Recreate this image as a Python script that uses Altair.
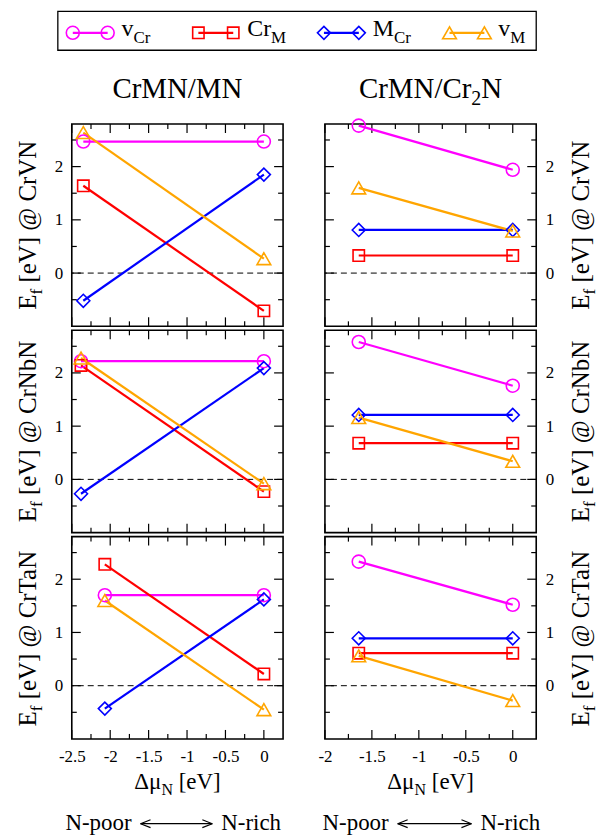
import altair as alt
import pandas as pd

FONT = "Liberation Serif"

# ---------------- data ----------------
SERIES = ["vCr", "CrM", "MCr", "vM"]
LEG_MAIN = ["v", "Cr", "M", "v"]
LEG_SUB = ["Cr", "M", "Cr", "M"]
COLORS = ["#ff00ff", "#ff0000", "#0000ff", "#ffa500"]
SHAPES = ["circle", "square", "diamond", "triangle-up"]
SIZES = [170, 130, 170, 190]

# Δμ_N positions of the two end points, per row (left column) and right column
X_LEFT = [[-2.35, 0.0], [-2.38, 0.0], [-2.07, 0.0]]
X_RIGHT = [-1.64, 0.0]

# formation energies [N-poor end, N-rich end]
MN_CRVN = {"vCr": [2.47, 2.47], "CrM": [1.64, -0.71], "MCr": [-0.52, 1.85], "vM": [2.64, 0.27]}
CR2N_CRVN = {"vCr": [2.77, 1.94], "CrM": [0.33, 0.33], "MCr": [0.81, 0.81], "vM": [1.60, 0.79]}
MN_CRNBN = {"vCr": [2.22, 2.22], "CrM": [2.14, -0.23], "MCr": [-0.27, 2.09], "vM": [2.28, -0.08]}
CR2N_CRNBN = {"vCr": [2.58, 1.76], "CrM": [0.68, 0.68], "MCr": [1.21, 1.21], "vM": [1.16, 0.34]}
MN_CRTAN = {"vCr": [1.70, 1.70], "CrM": [2.28, 0.22], "MCr": [-0.43, 1.62], "vM": [1.60, -0.45]}
CR2N_CRTAN = {"vCr": [2.33, 1.52], "CrM": [0.61, 0.61], "MCr": [0.89, 0.89], "vM": [0.56, -0.28]}

PANELS = [[MN_CRVN, CR2N_CRVN], [MN_CRNBN, CR2N_CRNBN], [MN_CRTAN, CR2N_CRTAN]]
ROW_NAMES = ["CrVN", "CrNbN", "CrTaN"]

YDOM = [-1.0, 2.8]
XDOMS = [[-2.5, 0.25], [-2.0, 0.25]]
XMAJ = [[-2.5, -2, -1.5, -1, -0.5, 0], [-2, -1.5, -1, -0.5, 0]]
XMIN = [[-2.25, -1.75, -1.25, -0.75, -0.25], [-1.75, -1.25, -0.75, -0.25]]
YMAJ = [0, 1, 2]
YMIN = [-0.5, 0.5, 1.5, 2.5]

# ---------------- layout ----------------
W, H = 212, 203
VSP, HSP = 4, 42
OX = [71, 325]          # page x of panel origins
OY = [121, 328, 535]    # page y of panel origins

TW = {" ": 250, "-": 333, "/": 278, "@": 921, "C": 667, "E": 611, "M": 889, "N": 722,
      "T": 611, "V": 722, "[": 333, "]": 333, "a": 444, "b": 500, "c": 444, "e": 444,
      "f": 333, "h": 500, "i": 278, "o": 500, "p": 500, "r": 333, "v": 500,
      "\u0394": 612, "\u03bc": 576, "2": 500}


def tw(s, size):
    return sum(TW.get(ch, 500) for ch in s) * size / 1000.0


def one():
    return alt.Data(values=[{}])


def txt(t, x, y, size, angle=0, align="left"):
    return alt.Chart(one()).mark_text(
        text=t, font=FONT, fontSize=size, align=align, baseline="alphabetic",
        angle=angle, color="black"
    ).encode(x=alt.value(x), y=alt.value(y))


def seg(x1, y1, x2, y2, color="black", w=1.2):
    return alt.Chart(one()).mark_rule(color=color, strokeWidth=w).encode(
        x=alt.value(x1), x2=alt.value(x2), y=alt.value(y1), y2=alt.value(y2))


def sym(x, y, shape, color, size):
    return alt.Chart(one()).mark_point(
        shape=shape, filled=False, color=color, size=size, strokeWidth=1.6, opacity=1
    ).encode(x=alt.value(x), y=alt.value(y))


def pieces_h(parts, cx, y):
    """parts: (text, size, dy, pre_gap)"""
    total = sum(tw(t, s) + g for t, s, d, g in parts)
    x = cx - total / 2
    out = []
    for t, s, d, g in parts:
        x += g
        out.append(txt(t, x, y + d, s))
        x += tw(t, s)
    return out


def pieces_v(parts, x, cy):
    total = sum(tw(t, s) + g for t, s, d, g in parts)
    y = cy + total / 2
    out = []
    for t, s, d, g in parts:
        y -= g
        out.append(txt(t, x + d, y, s, angle=270))
        y -= tw(t, s)
    return out


def panel(r, c):
    vals = PANELS[r][c]
    xs = X_LEFT[r] if c == 0 else X_RIGHT
    rows = []
    for i, s in enumerate(SERIES):
        for j in range(2):
            rows.append({"x": xs[j], "y": vals[s][j], "s": s, "sz": SIZES[i]})
    df = pd.DataFrame(rows)

    xscale = alt.Scale(domain=XDOMS[c], nice=False, zero=False)
    yscale = alt.Scale(domain=YDOM, nice=False, zero=False)
    if r == 2:
        xaxis = alt.Axis(values=XMAJ[c], labelExpr="'' + datum.value", ticks=False,
                         domain=False, grid=False, title=None, labelFont=FONT,
                         labelFontSize=17, labelPadding=10, labelColor="black",
                         labelFlush=False, labelOverlap=False)
    else:
        xaxis = None
    yaxis = alt.Axis(orient="left" if c == 0 else "right", values=YMAJ,
                     labelExpr="'' + datum.value", ticks=False, domain=False,
                     grid=False, title=None, labelFont=FONT, labelFontSize=17,
                     labelPadding=9, labelColor="black", labelOverlap=False)

    def X(f):
        return alt.X(f, scale=xscale, axis=xaxis, title=None)

    def Y(f):
        return alt.Y(f, scale=yscale, axis=yaxis, title=None)

    layers = []
    # zero line
    layers.append(alt.Chart(pd.DataFrame({"v": [0]})).mark_rule(
        color="black", strokeWidth=1, strokeDash=[6, 4]).encode(y=Y("v:Q")))
    # inward ticks on all four sides
    for tvals, L in ((YMAJ, 9), (YMIN, 5)):
        d = pd.DataFrame({"v": tvals})
        layers.append(alt.Chart(d).mark_rule(color="black", strokeWidth=1.2).encode(
            y=Y("v:Q"), x=alt.value(0), x2=alt.value(L)))
        layers.append(alt.Chart(d).mark_rule(color="black", strokeWidth=1.2).encode(
            y=Y("v:Q"), x=alt.value(W - L), x2=alt.value(W)))
    for tvals, L in ((XMAJ[c], 9), (XMIN[c], 5)):
        d = pd.DataFrame({"v": tvals})
        layers.append(alt.Chart(d).mark_rule(color="black", strokeWidth=1.2).encode(
            x=X("v:Q"), y=alt.value(H), y2=alt.value(H - L)))
        layers.append(alt.Chart(d).mark_rule(color="black", strokeWidth=1.2).encode(
            x=X("v:Q"), y=alt.value(0), y2=alt.value(L)))

    color = alt.Color("s:N", scale=alt.Scale(domain=SERIES, range=COLORS), legend=None)
    layers.append(alt.Chart(df).mark_line(strokeWidth=2.2).encode(
        x=X("x:Q"), y=Y("y:Q"), color=color, detail="s:N"))
    layers.append(alt.Chart(df).mark_point(filled=False, strokeWidth=1.6, opacity=1).encode(
        x=X("x:Q"), y=Y("y:Q"), color=color,
        shape=alt.Shape("s:N", scale=alt.Scale(domain=SERIES, range=SHAPES), legend=None),
        size=alt.Size("sz:Q", scale=None)))

    ox, oy = OX[c], OY[r]
    # y-axis title  E_f [eV] @ ...
    parts = [("E", 25, 0, 0), ("f", 17, 6, 0), ("[eV]", 25, 0, tw(" ", 25)),
             ("@", 25, 0, tw(" ", 25)), (ROW_NAMES[r], 25, 0, tw(" ", 25))]
    base_x = (35 - ox) if c == 0 else (590 - ox)
    layers += pieces_v(parts, base_x, H / 2)

    if r == 0:
        if c == 0:
            layers += pieces_h([("CrMN/MN", 29, 0, 0)], W / 2, 95 - oy)
            # anchor defining the whole drawing area (page 8..601 x 8..830)
            layers.append(alt.Chart(one()).mark_rect(opacity=0).encode(
                x=alt.value(8 - ox), x2=alt.value(601 - ox),
                y=alt.value(8 - oy), y2=alt.value(830 - oy)))
            # legend box
            layers.append(alt.Chart(one()).mark_rect(
                fill="white", fillOpacity=0, stroke="black", strokeWidth=1.3).encode(
                x=alt.value(57 - ox), x2=alt.value(537 - ox),
                y=alt.value(8 - oy), y2=alt.value(47 - oy)))
            for i in range(4):
                m1 = 72 + 126 * i
                m2 = m1 + 35
                ly = 29.5 - oy
                layers.append(seg(m1 - ox, ly, m2 - ox, ly, COLORS[i], 2.2))
                layers.append(sym(m1 - ox, ly, SHAPES[i], COLORS[i], SIZES[i]))
                layers.append(sym(m2 - ox, ly, SHAPES[i], COLORS[i], SIZES[i]))
                tx = m1 + 49
                layers.append(txt(LEG_MAIN[i], tx - ox, 32.5 - oy, 24))
                layers.append(txt(LEG_SUB[i], tx + tw(LEG_MAIN[i], 24) - ox, 40 - oy, 17))
        else:
            layers += pieces_h([("CrMN/Cr", 29, 0, 0), ("2", 20, 7, 0), ("N", 29, 0, 0)],
                               W / 2, 95 - oy)

    if r == 2:
        layers += pieces_h([("\u0394\u03bc", 23, 0, 0), ("N", 16, 6, 0),
                            ("[eV]", 23, 0, tw(" ", 23))], W / 2, 788 - oy)
        if c == 0:
            a1, a2 = 140, 212
        else:
            a1, a2 = 398, 472
        ay = 823 - oy
        layers.append(seg(a1 - ox, ay, a2 - ox, ay, "black", 1.1))
        layers.append(seg(a1 - ox, ay, a1 + 10 - ox, ay - 4, "black", 1.1))
        layers.append(seg(a1 - ox, ay, a1 + 10 - ox, ay + 4, "black", 1.1))
        layers.append(seg(a2 - ox, ay, a2 - 10 - ox, ay - 4, "black", 1.1))
        layers.append(seg(a2 - ox, ay, a2 - 10 - ox, ay + 4, "black", 1.1))
        layers.append(txt("N-poor", a1 - 9 - ox, 829 - oy, 23, align="right"))
        layers.append(txt("N-rich", a2 + 9 - ox, 829 - oy, 23))

    return alt.layer(*layers).properties(width=W, height=H)


cells = [panel(r, c) for r in range(3) for c in range(2)]
chart = alt.concat(
    *cells, columns=2, spacing=alt.RowColnumber(row=VSP, column=HSP), bounds="flush"
).properties(padding=0).configure_view(stroke="black", strokeWidth=1.6)

chart.save("out.html", embed_options={"renderer": "svg", "actions": False})
